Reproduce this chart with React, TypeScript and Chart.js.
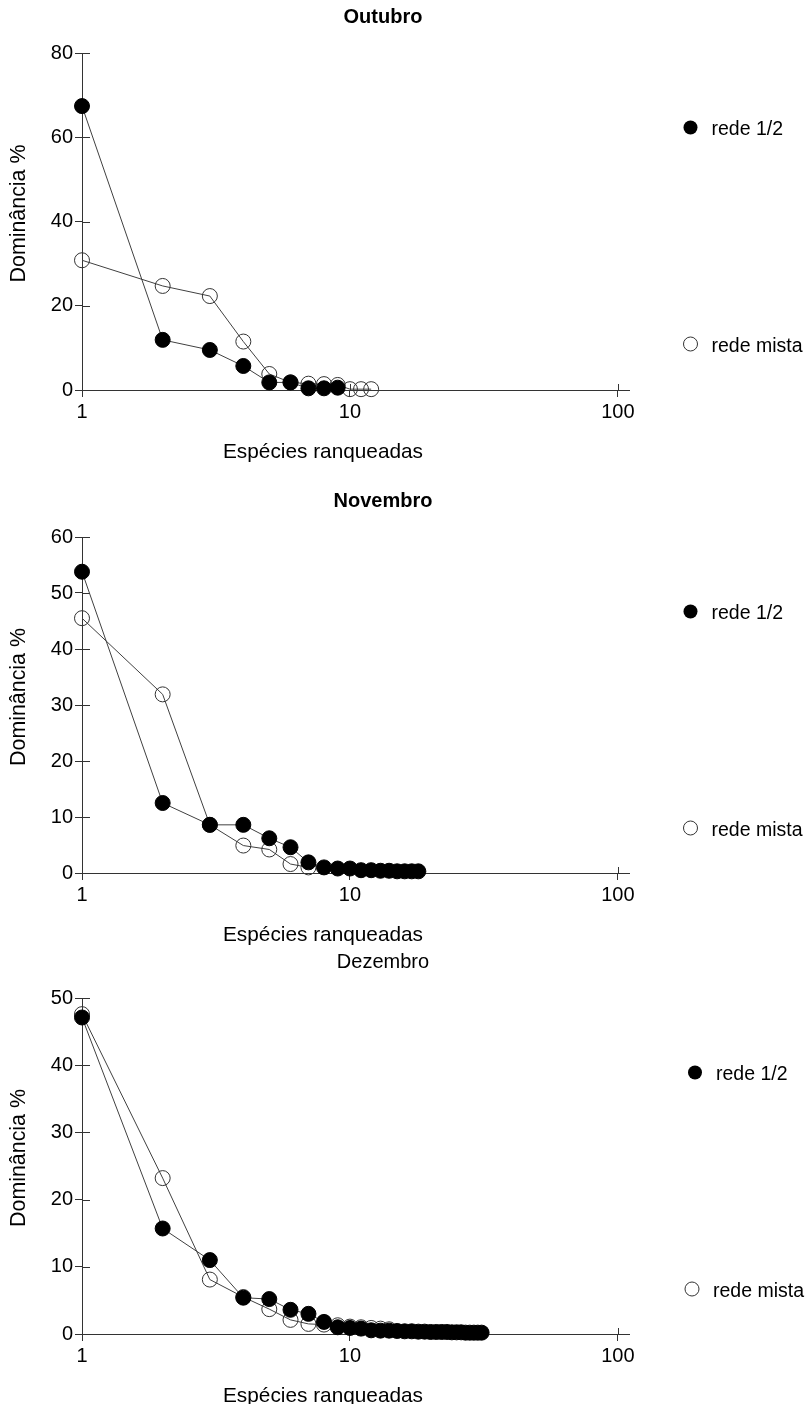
import React, { useEffect, useRef } from "react";
import { Chart, registerables } from "chart.js";

Chart.register(...registerables);

const FONT = "'Liberation Sans', Arial, Helvetica, sans-serif";
const AXIS_COLOR = "#333333";
const LINE_COLOR = "#404040";

const seriesLabels = ["rede 1/2", "rede mista"];
const xTickValues = [1, 10, 100];
const xAxisTitle = "Espécies ranqueadas";
const yAxisTitle = "Dominância %";

// Outubro
const octTitle = "Outubro";
const octRanksRede12 = [1, 2, 3, 4, 5, 6, 7, 8, 9];
const octRede12 = [67.4, 11.9, 9.5, 5.7, 1.8, 1.8, 0.4, 0.4, 0.55];
const octRanksMista = [1, 2, 3, 4, 5, 6, 7, 8, 9, 10, 11, 12];
const octMista = [30.8, 24.7, 22.3, 11.5, 3.8, 1.8, 1.5, 1.4, 1.2, 0.2, 0.2, 0.2];
const octYTicks = [0, 20, 40, 60, 80];

// Novembro
const novTitle = "Novembro";
const novRanksRede12 = [1, 2, 3, 4, 5, 6, 7, 8, 9, 10, 11, 12, 13, 14, 15, 16, 17, 18];
const novRede12 = [53.8, 12.5, 8.6, 8.6, 6.2, 4.6, 1.9, 1.0, 0.8, 0.8, 0.5, 0.5, 0.4, 0.4, 0.3, 0.3, 0.3, 0.3];
const novRanksMista = [1, 2, 3, 4, 5, 6, 7];
const novMista = [45.5, 31.9, 8.6, 4.9, 4.2, 1.6, 1.0];
const novYTicks = [0, 10, 20, 30, 40, 50, 60];

// Dezembro
const decTitle = "Dezembro";
const decRanksRede12 = [
  1, 2, 3, 4, 5, 6, 7, 8, 9, 10, 11, 12, 13, 14, 15, 16, 17, 18, 19, 20, 21, 22, 23, 24, 25, 26, 27, 28, 29, 30, 31,
];
const decRede12 = [
  47.1, 15.7, 11.0, 5.4, 5.2, 3.6, 3.0, 1.8, 1.0, 0.9, 0.8, 0.55, 0.5, 0.5, 0.45, 0.4, 0.4, 0.35, 0.35, 0.3, 0.3,
  0.3, 0.3, 0.25, 0.25, 0.25, 0.2, 0.2, 0.2, 0.2, 0.2,
];
const decRanksMista = [1, 2, 3, 4, 5, 6, 7, 8, 9, 10, 11, 12, 13, 14];
const decMista = [47.6, 23.2, 8.1, 5.5, 3.7, 2.1, 1.5, 1.4, 1.3, 1.1, 1.0, 0.9, 0.8, 0.7];
const decYTicks = [0, 10, 20, 30, 40, 50];

type PanelSpec = {
  title: string;
  titleBold: boolean;
  ranksA: number[];
  valuesA: number[];
  ranksB: number[];
  valuesB: number[];
  yTicks: number[];
  canvasTop: number;
  canvasHeight: number;
  chartTop: number;
  chartBottom: number;
  legendX: [number, number];
};

const panels: PanelSpec[] = [
  {
    title: octTitle, titleBold: true,
    ranksA: octRanksRede12, valuesA: octRede12, ranksB: octRanksMista, valuesB: octMista,
    yTicks: octYTicks, canvasTop: 0, canvasHeight: 480, chartTop: 53, chartBottom: 390,
    legendX: [690.5, 690.5],
  },
  {
    title: novTitle, titleBold: true,
    ranksA: novRanksRede12, valuesA: novRede12, ranksB: novRanksMista, valuesB: novMista,
    yTicks: novYTicks, canvasTop: 470, canvasHeight: 480, chartTop: 67, chartBottom: 403,
    legendX: [690.5, 690.5],
  },
  {
    title: decTitle, titleBold: false,
    ranksA: decRanksRede12, valuesA: decRede12, ranksB: decRanksMista, valuesB: decMista,
    yTicks: decYTicks, canvasTop: 940, canvasHeight: 464, chartTop: 58, chartBottom: 394,
    legendX: [695, 692],
  },
];

const WIDTH = 806;
const AXIS_LEFT = 82;
const AXIS_RIGHT = 629;
const X_SCALE_HEIGHT = 40;

const decorPlugin = {
  id: "decor",
  beforeDatasetsDraw(chart: any) {
    const { ctx, chartArea, scales } = chart;
    ctx.save();
    ctx.strokeStyle = AXIS_COLOR;
    ctx.lineWidth = 1;
    scales.y.ticks.forEach((t: any) => {
      const y = Math.round(scales.y.getPixelForValue(t.value)) + 0.5;
      ctx.beginPath();
      ctx.moveTo(chartArea.left, y);
      ctx.lineTo(chartArea.left + 8, y);
      ctx.stroke();
    });
    scales.x.ticks.forEach((t: any) => {
      const x = Math.round(scales.x.getPixelForValue(t.value)) + 0.5;
      ctx.beginPath();
      ctx.moveTo(x, chartArea.bottom);
      ctx.lineTo(x, chartArea.bottom - 6);
      ctx.stroke();
    });
    ctx.restore();
  },
  afterDraw(chart: any, _args: any, opts: any) {
    const { ctx, chartArea } = chart;
    const spec: PanelSpec = opts.spec;
    ctx.save();
    ctx.fillStyle = "#000";
    // Title
    ctx.font = `${spec.titleBold ? "bold " : ""}20px ${FONT}`;
    ctx.textAlign = "center";
    ctx.textBaseline = "alphabetic";
    ctx.fillText(spec.title, 383, chartArea.top - 30);
    // X axis title
    ctx.font = `20.8px ${FONT}`;
    ctx.fillText(xAxisTitle, 323, chartArea.bottom + 67.5);
    // Y axis title
    ctx.save();
    ctx.font = `21.4px ${FONT}`;
    ctx.translate(25, (chartArea.top + chartArea.bottom) / 2 - 8);
    ctx.rotate(-Math.PI / 2);
    ctx.fillText(yAxisTitle, 0, 0);
    ctx.restore();
    // Legend
    const offsets = [74.5, 291];
    chart.data.datasets.forEach((ds: any, i: number) => {
      const cx = spec.legendX[i];
      const cy = chartArea.top + offsets[i];
      ctx.beginPath();
      ctx.arc(cx, cy, 7, 0, Math.PI * 2);
      if (i === 0) {
        ctx.fillStyle = "#000";
        ctx.fill();
      } else {
        ctx.strokeStyle = "#333";
        ctx.lineWidth = 1;
        ctx.stroke();
      }
      ctx.fillStyle = "#000";
      ctx.font = `19.5px ${FONT}`;
      ctx.textAlign = "left";
      ctx.fillText(ds.label, cx + 21, cy + 7.5);
    });
    ctx.restore();
  },
};

function Panel({ spec }: { spec: PanelSpec }) {
  const ref = useRef<HTMLCanvasElement | null>(null);
  useEffect(() => {
    if (!ref.current) return;
    const tickFont = { family: FONT, size: 20 };
    const chart = new Chart(ref.current, {
      type: "line",
      data: {
        datasets: [
          {
            label: seriesLabels[0],
            data: spec.ranksA.map((r, i) => ({ x: r, y: spec.valuesA[i] })),
            borderColor: LINE_COLOR,
            borderWidth: 1,
            pointRadius: 7.5,
            pointBackgroundColor: "#000",
            pointBorderColor: "#000",
            pointBorderWidth: 1,
            fill: false,
            tension: 0,
            clip: false as any,
          },
          {
            label: seriesLabels[1],
            data: spec.ranksB.map((r, i) => ({ x: r, y: spec.valuesB[i] })),
            borderColor: LINE_COLOR,
            borderWidth: 1,
            pointRadius: 7.5,
            pointBackgroundColor: "rgba(0,0,0,0)",
            pointBorderColor: "#333",
            pointBorderWidth: 1,
            fill: false,
            tension: 0,
            clip: false as any,
          },
        ],
      },
      options: {
        responsive: false,
        animation: false,
        devicePixelRatio: 1,
        events: [],
        layout: {
          padding: {
            left: 0,
            top: spec.chartTop,
            right: WIDTH - AXIS_RIGHT,
            bottom: spec.canvasHeight - spec.chartBottom - X_SCALE_HEIGHT,
          },
        },
        plugins: {
          legend: { display: false },
          title: { display: false },
          tooltip: { enabled: false },
          decor: { spec },
        } as any,
        scales: {
          x: {
            type: "logarithmic",
            min: 1,
            max: 110,
            afterBuildTicks: (s: any) => {
              s.ticks = xTickValues.map((v) => ({ value: v }));
            },
            afterFit: (s: any) => {
              s.height = X_SCALE_HEIGHT;
            },
            ticks: {
              autoSkip: false,
              maxRotation: 0,
              color: "#000",
              font: tickFont,
              padding: 3,
              callback: (v: any) => String(v),
            },
            grid: { drawOnChartArea: false, tickLength: 7, color: AXIS_COLOR },
            border: { color: AXIS_COLOR, width: 1 },
          },
          y: {
            type: "linear",
            min: spec.yTicks[0],
            max: spec.yTicks[spec.yTicks.length - 1],
            afterBuildTicks: (s: any) => {
              s.ticks = spec.yTicks.map((v) => ({ value: v }));
            },
            afterFit: (s: any) => {
              s.width = AXIS_LEFT;
            },
            ticks: {
              color: "#000",
              font: tickFont,
              padding: 2,
              callback: (v: any) => String(v),
            },
            grid: { drawOnChartArea: false, tickLength: 7, color: AXIS_COLOR },
            border: { color: AXIS_COLOR, width: 1 },
          },
        },
      } as any,
      plugins: [decorPlugin],
    });
    return () => chart.destroy();
  }, [spec]);
  return (
    <canvas
      ref={ref}
      width={WIDTH}
      height={spec.canvasHeight}
      style={{ position: "absolute", left: 0, top: spec.canvasTop, width: WIDTH, height: spec.canvasHeight }}
    />
  );
}

export default function App() {
  return (
    <div style={{ position: "absolute", left: 0, top: 0, width: WIDTH, height: 1404, background: "#fff" }}>
      {panels.map((p) => (
        <Panel key={p.title} spec={p} />
      ))}
    </div>
  );
}
